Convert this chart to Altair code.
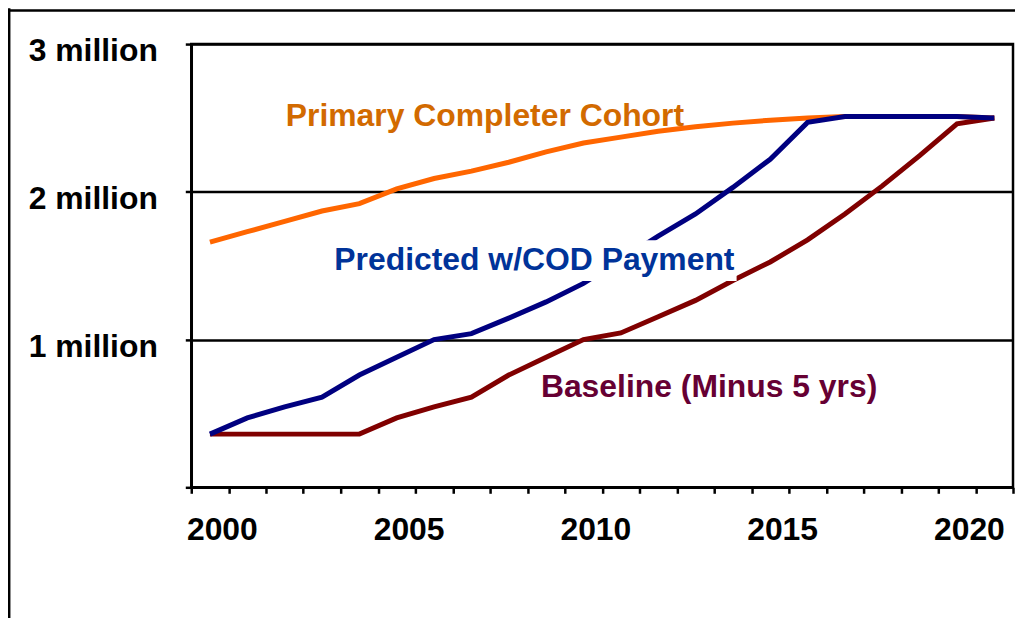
import altair as alt
import pandas as pd

years = list(range(2000, 2022))
primary = [1.66, 1.73, 1.80, 1.87, 1.92, 2.02, 2.09, 2.14, 2.20, 2.27, 2.33,
           2.37, 2.41, 2.44, 2.465, 2.485, 2.50, 2.51, 2.51, 2.51, 2.51, 2.50]
predicted = [0.36, 0.47, 0.545, 0.61, 0.76, 0.88, 1.0, 1.04, 1.145, 1.255, 1.38,
             1.54, 1.70, 1.85, 2.03, 2.22, 2.47, 2.51, 2.51, 2.51, 2.51, 2.50]
baseline = [0.36, 0.36, 0.36, 0.36, 0.36, 0.47, 0.545, 0.61, 0.76, 0.88, 1.0,
            1.045, 1.155, 1.265, 1.40, 1.525, 1.675, 1.85, 2.04, 2.245, 2.46, 2.50]

label_text = ["Primary Completer Cohort", "Predicted w/COD Payment", "Baseline (Minus 5 yrs)"]
label_year = [2002.03, 2003.33, 2008.86]
label_value = [2.443, 1.474, 0.611]
label_color = ["#D26A00", "#003399", "#660033"]

FONT = "Liberation Sans"
FS = 32

tick_vals = [y - 0.5 for y in years] + [years[-1] + 0.5]

xscale = alt.Scale(domain=[1999.5, 2021.5], nice=False, zero=False)
yscale = alt.Scale(domain=[0, 3], nice=False)

xaxis = alt.Axis(values=tick_vals, grid=False, title=None,
                 labelExpr="(datum.value - 0.5) % 5 == 0 ? format(datum.value - 0.5, 'd') : ''",
                 labelOffset=-6.8, labelOverlap=False, labelFlush=False, labelBound=False,
                 labelFont=FONT, labelFontSize=FS, labelFontWeight="bold", labelColor="black",
                 labelPadding=21, tickSize=6, tickColor="black", tickWidth=2.5,
                 domainColor="black", domainWidth=2.5)
yaxis = alt.Axis(values=[0, 1, 2, 3], grid=True, gridColor="black", gridWidth=2.5, gridOpacity=1,
                 title=None,
                 labelExpr="datum.value == 0 ? '' : datum.value + ' million'",
                 labelOffset=7, labelOverlap=False, labelFlush=False,
                 labelFont=FONT, labelFontSize=FS, labelFontWeight="bold", labelColor="black",
                 labelPadding=28, tickSize=6, tickColor="black", tickWidth=2.5,
                 domainColor="black", domainWidth=2.5)

df = pd.DataFrame({"year": years, "primary": primary, "predicted": predicted, "baseline": baseline})

base = alt.Chart(df)


def line(field, color):
    return base.mark_line(strokeWidth=5, color=color).encode(
        x=alt.X("year:Q", scale=xscale, axis=xaxis),
        y=alt.Y(f"{field}:Q", scale=yscale, axis=yaxis),
    )


orange = line("primary", "#FF6600")
maroon = line("baseline", "#800000")
blue = line("predicted", "#000080")

box_df = pd.DataFrame({"x": [2003.17], "x2": [2014.1], "y": [1.396], "y2": [1.672]})
box = alt.Chart(box_df).mark_rect(color="white").encode(
    x=alt.X("x:Q", scale=xscale, axis=xaxis), x2="x2:Q",
    y=alt.Y("y:Q", scale=yscale, axis=yaxis), y2="y2:Q",
)

lab_df = pd.DataFrame({"text": label_text, "year": label_year, "value": label_value, "color": label_color})
labels = alt.Chart(lab_df).mark_text(align="left", baseline="alphabetic", font=FONT,
                                     fontSize=FS, fontWeight="bold").encode(
    x=alt.X("year:Q", scale=xscale, axis=xaxis),
    y=alt.Y("value:Q", scale=yscale, axis=yaxis),
    text="text:N",
    color=alt.Color("color:N", scale=None),
)

one = alt.Chart(pd.DataFrame({"k": [0]}))
frame_left = one.mark_rule(color="black", strokeWidth=2.5).encode(
    x=alt.value(-182.8), y=alt.value(-36), y2=alt.value(600))
frame_top = one.mark_rule(color="black", strokeWidth=2.5).encode(
    y=alt.value(-33.8), x=alt.value(-184), x2=alt.value(827))

chart = alt.layer(orange, maroon, blue, box, labels, frame_left, frame_top).properties(
    width=825, height=445,
    autosize=alt.AutoSizeParams(type="none"),
    padding={"left": 184, "top": 35, "right": 2, "bottom": 130},
    background="white",
).configure_view(stroke="black", strokeWidth=2.5)

chart.save("out.html", embed_options={"renderer": "svg", "actions": False})
